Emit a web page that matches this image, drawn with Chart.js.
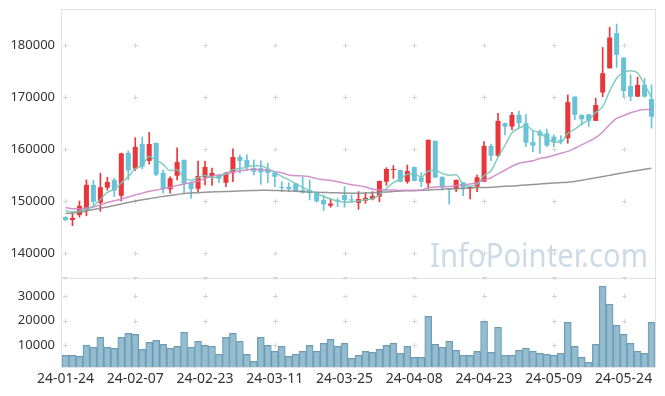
<!DOCTYPE html>
<html><head><meta charset="utf-8">
<script src="https://cdn.jsdelivr.net/npm/chart.js@4.4.1/dist/chart.umd.min.js"></script>
<style>
html,body{margin:0;padding:0;background:#fff;}
#wrap{position:relative;width:665px;height:396px;overflow:hidden;}
#p{position:absolute;left:0;top:0;width:665px;height:280px;}
#v{position:absolute;left:0;top:277px;width:665px;height:119px;}
canvas{display:block;}
</style></head><body>
<div id="wrap"><div id="p"><canvas id="cp" width="665" height="280"></canvas></div><div id="v"><canvas id="cv" width="665" height="119"></canvas></div></div>
<script>
const dates = ['24-01-24','24-01-25','24-01-26','24-01-29','24-01-30','24-01-31',
'24-02-01','24-02-02','24-02-05','24-02-06','24-02-07','24-02-08','24-02-13','24-02-14','24-02-15','24-02-16','24-02-19','24-02-20','24-02-21','24-02-22','24-02-23','24-02-26','24-02-27','24-02-28','24-02-29',
'24-03-04','24-03-05','24-03-06','24-03-07','24-03-08','24-03-11','24-03-12','24-03-13','24-03-14','24-03-15','24-03-18','24-03-19','24-03-20','24-03-21','24-03-22','24-03-25','24-03-26','24-03-27','24-03-28','24-03-29',
'24-04-01','24-04-02','24-04-03','24-04-04','24-04-05','24-04-08','24-04-09','24-04-11','24-04-12','24-04-15','24-04-16','24-04-17','24-04-18','24-04-19','24-04-22','24-04-23','24-04-24','24-04-25','24-04-26','24-04-29','24-04-30',
'24-05-02','24-05-03','24-05-07','24-05-08','24-05-09','24-05-10','24-05-13','24-05-14','24-05-16','24-05-17','24-05-20','24-05-21','24-05-22','24-05-23','24-05-24','24-05-27','24-05-28','24-05-29','24-05-30'];

const opens = [146900,146350,147300,148250,153100,149650,152550,154050,151000,159250,
156200,160950,157700,161150,155400,152250,154850,157900,153500,152350,
154500,154800,155000,153500,155450,158450,157850,156300,156300,156100,
155450,152700,152700,153350,152100,152100,151600,150200,149100,150100,
151150,150300,149650,150050,150350,150850,153700,155950,155950,153700,
156550,154500,153400,161550,154650,152300,152250,153600,152350,152750,
153700,160600,158700,164950,164300,166550,164950,161350,163350,163000,
162350,161750,162050,170050,166550,166650,165400,170850,175500,182250,
177550,172100,170050,172300,169600];
const highs = [147000,147900,150000,154050,154000,155350,154550,154350,159200,159650,
162150,162300,163200,161150,155950,154650,160200,157900,153500,157650,
157650,156300,155000,155450,160000,158850,158850,157900,157750,157250,
155450,153700,153500,153350,154550,154050,151600,151150,150450,150450,
152750,151150,151800,151600,151800,153850,156400,156800,155950,156900,
156550,155450,161750,161550,154650,152300,154050,153600,152750,155000,
161400,160950,166850,164950,167050,167300,166650,163450,163650,163800,
162700,162550,170400,170050,166550,166650,169750,179500,183400,184000,
177550,174250,173800,173600,172300];
const lows = [146150,145250,146900,147150,149350,148000,152100,150850,150000,154050,
155850,156150,157100,154850,151500,151500,154050,151600,150500,151800,
153100,153000,153500,152750,153700,155350,155950,155000,153200,153500,
152750,151800,151800,151800,151500,150200,149750,148150,148800,148900,
148800,149750,148400,149550,150200,149850,153000,154350,153700,153400,
153850,152750,152450,154500,152100,149400,151800,151000,150400,151800,
153700,157750,158500,162700,163650,164100,160450,159500,159150,160450,
160450,160950,161100,165600,164600,164300,165400,170050,175500,175650,
170050,169250,170050,169950,164000];
const closes = [146350,146750,149050,153100,149850,152650,153650,152000,159150,155850,
160400,156600,160950,155050,152250,154350,157500,153400,152300,154800,
156550,155400,154300,155450,158450,157700,156600,155650,155500,155400,
154650,152500,152300,151900,151650,151500,149950,149350,149500,149900,
150200,150100,150400,150600,150950,153850,156150,156150,153700,155750,
153850,153700,161750,154500,152650,152200,154050,152500,152750,154550,
160600,158700,165400,164300,166550,164950,161200,160650,162550,160650,
161400,161400,169000,166550,165700,165400,168450,174550,181400,178100,
171150,170050,172300,170050,166200];

const ma5 = [148150,147900,148100,148400,149020,150280,151660,152250,153460,154660,
156210,156800,158590,157770,157050,155840,156020,154510,153960,154470,
154910,154490,154670,155300,156030,156260,156500,156770,156780,156170,
155560,154740,154070,153350,152600,151970,151460,150870,150390,150040,
149780,149810,150020,150240,150450,151180,152390,153540,154160,155120,
155120,154630,155750,155910,155290,154960,155030,153180,152830,153210,
154890,155820,158400,160710,163110,163980,164480,163530,163180,162000,
161290,161330,163000,163800,164810,165610,167020,168130,171100,173580,
174730,175050,174600,172330,169930];
const ma20 = [148750,148500,148500,148650,148850,149250,149700,150050,150350,150750,
151150,151500,151850,152100,152350,152650,152950,153250,153550,153800,
154310,154743,155005,155123,155553,155805,155953,156135,155953,155930,
155643,155438,155005,154848,154818,154675,154298,154095,153955,153710,
153393,153128,152933,152690,152315,152123,152100,152125,152035,152053,
152013,152073,152545,152675,152725,152760,152965,153123,153285,153518,
154038,154468,155218,155903,156683,157238,157490,157715,158158,158403,
158780,159165,159528,160130,160783,161443,162163,163265,164698,165875,
166403,166970,167315,167603,167585];
const ma60 = [147600,147690,147830,148080,148370,148600,148850,149130,149420,149710,
150000,150230,150440,150670,150870,151060,151250,151440,151540,151600,
151670,151730,151790,151830,151870,151920,151980,152020,152060,152060,
152020,151980,151920,151870,151790,151730,151670,151630,151600,151560,
151520,151500,151500,151540,151600,151670,151730,151830,151920,151960,
152000,152060,152120,152190,152250,152310,152370,152420,152500,152540,
152600,152630,152730,152810,152880,152980,153080,153170,153270,153370,
153460,153540,153620,153750,153980,154230,154460,154690,154920,155190,
155440,155650,155870,156080,156290];

const volumes = [5760,5760,5350,9880,9050,13170,9050,8640,13170,14810,
14400,8230,11110,11930,10290,8640,9460,15230,9050,11520,
9880,9460,6170,13170,14810,11520,6170,3290,13170,9880,
7400,9460,5350,6170,7400,9880,7400,10700,12350,9460,
10700,4530,5760,7400,7000,8230,9880,10700,6580,9460,
4940,4940,21810,10290,9050,11520,7820,5760,5760,7400,
19750,7000,17280,5760,5760,7820,8640,7400,6580,6170,
5760,6580,19340,9460,4940,2880,10290,34150,26750,18110,
14400,10700,7400,6580,19340];

const priceTicks = [140000,150000,160000,170000,180000];
const volumeTicks = [10000,20000,30000];
const xTickLabels = ['24-01-24','24-02-07','24-02-23','24-03-11','24-03-25','24-04-08','24-04-23','24-05-09','24-05-24'];

const UP = 'rgb(233,54,58)', DOWN = 'rgb(104,194,216)';
const candleColors = closes.map((c,i)=> c >= opens[i] ? UP : DOWN);
const wickData = lows.map((l,i)=>[l, highs[i]]);
const bodyData = opens.map((o,i)=>[o, closes[i]]);

Chart.defaults.font.family = "'Noto Sans', sans-serif";
Chart.defaults.font.size = 13;
Chart.defaults.color = '#333';

const fixY = s => { s.width = 62; s.paddingTop = 0; s.paddingBottom = 0; };

const frame = {
  id:'frame',
  beforeDatasetsDraw(chart, args, opts){
    const {ctx, chartArea:a} = chart;
    const xs = chart.scales.x, ys = chart.scales.y;
    ctx.save();
    ctx.strokeStyle = '#e2e2e2'; ctx.lineWidth = 1;
    ctx.strokeRect(Math.round(a.left)-0.5, Math.round(a.top)-0.5, Math.round(a.right-a.left)+1, Math.round(a.bottom-a.top)+1);
    ctx.strokeStyle = '#d6d6d6';
    const yPix = opts.yValues.map(v=>ys.getPixelForValue(v));
    if (opts.top) yPix.push(a.top);
    xTickLabels.forEach(l=>{
      const px = Math.round(xs.getPixelForValue(dates.indexOf(l))) + 0.5;
      yPix.forEach(p=>{
        const py = Math.round(p) + 0.5;
        ctx.beginPath();
        ctx.moveTo(px-2.5, py); ctx.lineTo(px+2.5, py);
        ctx.moveTo(px, py-2.5); ctx.lineTo(px, py+2.5);
        ctx.stroke();
      });
    });
    if (opts.watermark){
      ctx.fillStyle = 'rgb(204,219,229)';
      ctx.font = "33px 'Noto Sans', sans-serif";
      ctx.textBaseline = 'alphabetic';
      ctx.fillText('InfoPointer.com', 430, 267, 218);
    }
    ctx.restore();
  }
};

new Chart(document.getElementById('cp'), {
  type:'bar',
  data:{
    labels: dates,
    datasets:[
      {type:'line', label:'MA5', data:ma5, borderColor:'rgba(120,200,185,0.9)', borderWidth:1.5, pointRadius:0, cubicInterpolationMode:'monotone', order:0},
      {type:'line', label:'MA20', data:ma20, borderColor:'rgba(205,135,200,0.9)', borderWidth:1.5, pointRadius:0, cubicInterpolationMode:'monotone', order:0},
      {type:'line', label:'MA60', data:ma60, borderColor:'rgba(140,140,140,0.9)', borderWidth:1.5, pointRadius:0, cubicInterpolationMode:'monotone', order:0},
      {label:'wick', data:wickData, backgroundColor:candleColors, barThickness:1, grouped:false, order:2},
      {label:'body', data:bodyData, backgroundColor:candleColors, barPercentage:0.72, categoryPercentage:1, grouped:false, minBarLength:1, order:1}
    ]
  },
  options:{
    responsive:false, animation:false, events:[],
    layout:{padding:{top:10,right:10,bottom:2,left:0}},
    plugins:{legend:{display:false}, tooltip:{enabled:false},
      frame:{yValues:priceTicks, top:false, watermark:true}},
    scales:{
      x:{display:false, offset:true, grid:{display:false}},
      y:{min:135200, max:186700,
         afterBuildTicks:s=>{s.ticks = priceTicks.map(v=>({value:v}));},
         afterFit:fixY,
         grid:{display:false, drawTicks:false}, border:{display:false},
         ticks:{padding:7, color:'#333', font:{size:13}, callback:v=>String(v)}}
    }
  },
  plugins:[frame]
});

new Chart(document.getElementById('cv'), {
  type:'bar',
  data:{
    labels: dates,
    datasets:[{label:'Volume', data:volumes, backgroundColor:'rgba(138,182,202,0.9)', borderColor:'rgba(100,150,175,0.95)', borderWidth:1, barPercentage:1, categoryPercentage:1, base:1000, clip:0}]
  },
  options:{
    responsive:false, animation:false, events:[],
    layout:{padding:{top:0,right:10,bottom:0,left:0}},
    plugins:{legend:{display:false}, tooltip:{enabled:false},
      frame:{yValues:volumeTicks, top:true, watermark:false}},
    scales:{
      x:{offset:true, grid:{display:false, drawTicks:false}, border:{display:false},
         afterFit:s=>{s.height = 29; s.paddingLeft = 0; s.paddingRight = 0;},
         ticks:{autoSkip:false, maxRotation:0, padding:4, color:'#333', font:{size:14},
           callback:(v,i)=> xTickLabels.includes(dates[i]) ? dates[i] : null}},
      y:{min:1000, max:37900,
         afterBuildTicks:s=>{s.ticks = volumeTicks.map(v=>({value:v}));},
         afterFit:fixY,
         grid:{display:false, drawTicks:false}, border:{display:false},
         ticks:{padding:7, color:'#333', font:{size:13}, callback:v=>String(v)}}
    }
  },
  plugins:[frame]
});
</script>
</body></html>
